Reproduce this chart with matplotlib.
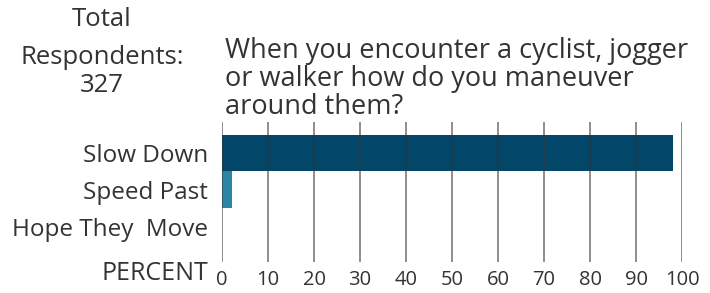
import matplotlib
matplotlib.use("Agg")
import matplotlib.pyplot as plt

categories = ["Slow Down", "Speed Past", "Hope They  Move"]
percents = [98.0, 2.1, 0.0]
bar_colors = ["#02476A", "#2C85A4", "#2C85A4"]
ticks = [0, 10, 20, 30, 40, 50, 60, 70, 80, 90, 100]
title = "When you encounter a cyclist, jogger\nor walker how do you maneuver\naround them?"

plt.rcParams["font.family"] = ["Open Sans", "DejaVu Sans"]
text_color = "#333333"

fig = plt.figure(figsize=(7.1, 2.93), dpi=100)
ax = fig.add_axes([222 / 710, 1 - 262 / 293, 460 / 710, 140 / 293])

ypos = list(range(len(categories)))
ax.barh(ypos, percents, height=1.0, color=bar_colors, zorder=1)
for t in ticks:
    ax.axvline(t, color="#333333", alpha=0.65, lw=1.2, zorder=2)

ax.set_xlim(0, 100)
ax.set_ylim(2.95, -0.84)
ax.set_yticks(ypos)
ax.set_yticklabels(categories, fontsize=17.5, color=text_color)
ax.set_xticks(ticks)
ax.set_xticklabels([str(t) for t in ticks], fontsize=14.5, color=text_color)
ax.tick_params(length=0)
ax.tick_params(axis="x", pad=6)
ax.tick_params(axis="y", pad=10)
for s in ax.spines.values():
    s.set_visible(False)

fig.text(208 / 710, 1 - 273 / 293, "PERCENT", ha="right", va="center",
         fontsize=18, color=text_color)
fig.text(225 / 710, 1 - 37 / 293, title, ha="left", va="top",
         fontsize=19.5, color=text_color, linespacing=1.0)
fig.text(102 / 710, 1 - 19 / 293, "Total", ha="center", va="center",
         fontsize=18.5, color=text_color)
fig.text(102 / 710, 1 - 57 / 293, "Respondents:", ha="center", va="center",
         fontsize=18.5, color=text_color)
fig.text(102 / 710, 1 - 85 / 293, "327", ha="center", va="center",
         fontsize=18.5, color=text_color)

fig.savefig("out.png", dpi=100)
